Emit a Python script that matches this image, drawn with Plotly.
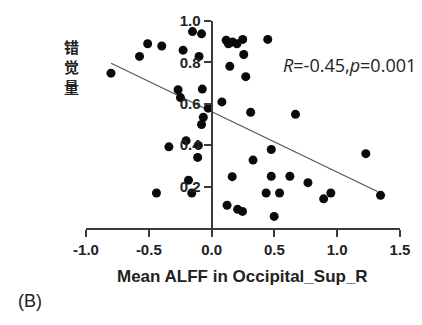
import plotly.graph_objects as go

# Data
alff = [-0.801, -0.574, -0.509, -0.397, -0.227, -0.152, -0.080, -0.100,
        0.116, 0.134, 0.168, 0.202, 0.248, 0.447, 0.256, 0.145, 0.272,
        -0.267, -0.248, -0.074, 0.082, -0.027, -0.066, -0.080, 0.311, 0.668,
        -0.203, -0.105, -0.340, -0.111, 0.475, 1.228, 0.330,
        0.164, 0.475, 0.623, 0.767, -0.184, -0.158, -0.439, 0.434, 0.541,
        0.949, 0.892, 1.345, 0.123, 0.207, 0.246, 0.498]
illusion = [0.748, 0.829, 0.890, 0.879, 0.859, 0.949, 0.938, 0.829,
            0.907, 0.890, 0.898, 0.890, 0.911, 0.911, 0.838, 0.781, 0.731,
            0.668, 0.630, 0.671, 0.609, 0.579, 0.535, 0.500, 0.559, 0.549,
            0.422, 0.399, 0.392, 0.341, 0.379, 0.359, 0.328,
            0.248, 0.250, 0.250, 0.219, 0.231, 0.169, 0.169, 0.169, 0.169,
            0.169, 0.141, 0.158, 0.110, 0.090, 0.080, 0.056]
fit_x = [-0.80, 1.32]
fit_y = [0.796, 0.176]
x_ticks = [-1.0, -0.5, 0.0, 0.5, 1.0, 1.5]
x_labels = ["-1.0", "-0.5", "0.0", "0.5", "1.0", "1.5"]
y_ticks = [0.2, 0.4, 0.6, 0.8, 1.0]
y_labels = ["0.2", "0.4", "0.6", "0.8", "1.0"]
y_title_chars = ["错", "觉", "量"]

AX = "#3a3a3a"
FONT = "Liberation Sans, Arial, sans-serif"

fig = go.Figure()
fig.add_trace(go.Scatter(x=fit_x, y=fit_y, mode="lines",
                         line=dict(color="#555555", width=1.2),
                         hoverinfo="skip", showlegend=False))
fig.add_trace(go.Scatter(x=alff, y=illusion, mode="markers",
                         marker=dict(color="#0a0a0a", size=9),
                         cliponaxis=False, showlegend=False))

fig.update_layout(
    width=422, height=325,
    margin=dict(l=86, r=16, t=14, b=97),
    paper_bgcolor="white", plot_bgcolor="white",
    xaxis=dict(range=[-1.0, 1.5], tickvals=x_ticks, ticktext=x_labels,
               showline=True, linecolor=AX, linewidth=2,
               ticks="outside", ticklen=7, tickwidth=2, tickcolor=AX,
               showgrid=False, zeroline=False,
               tickfont=dict(family=FONT, size=15, color="#222222", weight="bold")),
    yaxis=dict(range=[0, 1.0], tickvals=y_ticks, ticktext=y_labels,
               anchor="free", position=0.4,
               showline=True, linecolor=AX, linewidth=2,
               ticks="outside", ticklen=7, tickwidth=2, tickcolor=AX,
               showgrid=False, zeroline=False,
               tickfont=dict(family=FONT, size=15, color="#222222", weight="bold")),
)

fig.add_annotation(text="Mean ALFF in Occipital_Sup_R", xref="paper", yref="paper",
                   x=0.498, y=-0.236, xanchor="center", yanchor="middle",
                   showarrow=False,
                   font=dict(family=FONT, size=17, color="#222222", weight="bold"))
for i, ch in enumerate(y_title_chars):
    fig.add_annotation(text=ch, xref="paper", yref="paper",
                       x=(71 - 86) / 320, y=(227.7 - (40 + 21 * i)) / 213.5,
                       xanchor="center", yanchor="middle", showarrow=False,
                       font=dict(family="Noto Sans CJK SC", size=15, color="#222222",
                                 weight="bold"))
fig.add_annotation(text="<i>R</i>=-0.45,<i>p</i>=0.001", xref="paper", yref="paper",
                   x=(285 - 86) / 320, y=(227.7 - 60) / 213.5,
                   xanchor="left", yanchor="middle", showarrow=False,
                   font=dict(family="Open Sans, sans-serif", size=18, color="#222222"))
fig.add_annotation(text="(B)", xref="paper", yref="paper",
                   x=(15 - 86) / 320, y=(227.7 - 303) / 213.5,
                   xanchor="left", yanchor="middle", showarrow=False,
                   font=dict(family=FONT, size=18, color="#222222"))

fig.write_html("out.html")
